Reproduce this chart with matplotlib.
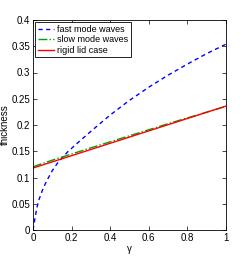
import numpy as np
import matplotlib
matplotlib.use('Agg')
import matplotlib.pyplot as plt

gamma = [0.0, 0.01, 0.02, 0.03, 0.05, 0.07, 0.1, 0.13, 0.18, 0.25, 0.3, 0.4, 0.5, 0.6, 0.7, 0.8, 0.9, 1.0]
fast = [0.0, 0.022, 0.042, 0.057, 0.077, 0.093, 0.113, 0.129, 0.149, 0.172, 0.188, 0.219, 0.247, 0.272, 0.295, 0.316, 0.336, 0.354]
slow = [0.12, 0.1215, 0.123, 0.1243, 0.1268, 0.1293, 0.133, 0.1366, 0.1424, 0.1506, 0.1565, 0.168, 0.1795, 0.191, 0.2025, 0.2135, 0.2245, 0.2355]
rigid = [0.118, 0.1192, 0.1204, 0.1215, 0.1239, 0.1263, 0.1298, 0.1333, 0.1392, 0.1475, 0.1534, 0.1652, 0.177, 0.1888, 0.2006, 0.2124, 0.2242, 0.236]

plt.rcParams['font.family'] = ['Liberation Sans', 'DejaVu Sans']
plt.rcParams['font.size'] = 7

fig = plt.figure(figsize=(2.49, 2.60), dpi=100)
ax = fig.add_axes([33 / 249, 30 / 260, 193 / 249, 210 / 260])

ax.plot(gamma, fast, '--', color='#0000ff', lw=1.0, label='fast mode waves', dashes=(3, 2.5))
ax.plot(gamma, slow, '-.', color='#00a000', lw=1.0, label='slow mode waves')
ax.plot(gamma, rigid, '-', color='#ff0000', lw=1.0, label='rigid lid case')

ax.set_xlim(0, 1)
ax.set_ylim(0, 0.4)
ax.set_xticks([0, 0.2, 0.4, 0.6, 0.8, 1])
ax.set_xticklabels(['0', '0.2', '0.4', '0.6', '0.8', '1'])
ax.set_yticks([0, 0.05, 0.1, 0.15, 0.2, 0.25, 0.3, 0.35, 0.4])
ax.set_yticklabels(['0', '0.05', '0.1', '0.15', '0.2', '0.25', '0.3', '0.35', '0.4'])
ax.tick_params(direction='in', top=True, right=True, length=3, width=0.5, pad=2)
for s in ax.spines.values():
    s.set_linewidth(0.6)

ax.set_xlabel('γ', labelpad=1)
ax.set_ylabel('thickness', labelpad=1)

leg = ax.legend(loc='upper left', fancybox=False, edgecolor='black', framealpha=1,
                fontsize=6.5, borderpad=0.3, handlelength=1.8, handletextpad=0.3,
                labelspacing=0.15, borderaxespad=0.25)
leg.get_frame().set_linewidth(0.6)

fig.savefig('out.png', dpi=100)
